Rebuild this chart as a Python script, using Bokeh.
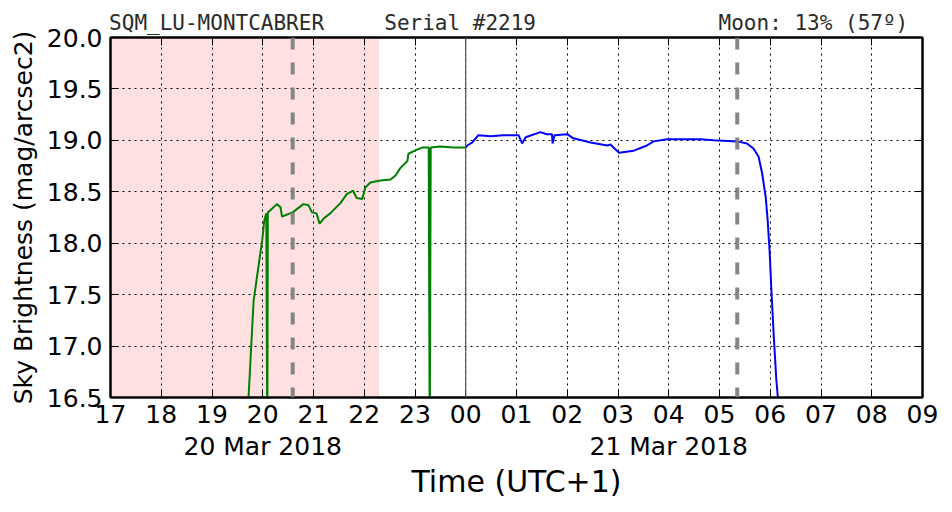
from bokeh.plotting import figure
from bokeh.models import (FixedTicker, LinearAxis, BoxAnnotation, Span,
                          PrintfTickFormatter)
from bokeh.embed import file_html
from bokeh.resources import INLINE

# ---- data (hours since 00:00 on 20 Mar 2018, UTC+1) ----
dusk_hours = [19.70, 19.72, 19.82, 19.90, 19.99, 20.03, 20.07, 20.09, 20.10, 20.15,
              20.28, 20.35, 20.38, 20.59, 20.80, 20.90, 20.97, 21.06, 21.12, 21.20,
              21.33, 21.53, 21.66, 21.78, 21.85, 21.96, 22.02, 22.12, 22.32, 22.52,
              22.62, 22.71, 22.85, 22.87, 23.04, 23.14, 23.27, 23.29, 23.31, 23.50,
              23.76, 24.00]
dusk_mag = [16.30, 16.50, 17.44, 17.72, 18.03, 18.22, 18.29, 16.00, 18.30, 18.32,
            18.38, 18.35, 18.26, 18.30, 18.38, 18.37, 18.30, 18.29, 18.19, 18.24,
            18.29, 18.39, 18.48, 18.51, 18.44, 18.43, 18.54, 18.59, 18.61, 18.62,
            18.66, 18.73, 18.80, 18.87, 18.91, 18.93, 18.93, 16.00, 18.93, 18.94,
            18.93, 18.93]

night_hours = [24.00, 24.03, 24.13, 24.25, 24.49, 24.74, 25.04, 25.11, 25.18, 25.47,
               25.60, 25.70, 25.71, 25.75, 26.00, 26.12, 26.46, 26.79, 26.85, 27.02,
               27.31, 27.57, 27.70, 27.97, 28.29, 28.63, 28.88, 29.35, 29.54, 29.67,
               29.77, 29.84, 29.91, 29.95, 29.99, 30.02, 30.07, 30.12, 30.15, 30.20]
night_mag = [18.93, 18.95, 18.98, 19.05, 19.04, 19.05, 19.05, 18.97, 19.03, 19.08,
             19.06, 19.06, 18.97, 19.05, 19.06, 19.02, 18.98, 18.95, 18.96, 18.88,
             18.90, 18.95, 18.99, 19.01, 19.01, 19.01, 19.00, 18.99, 18.97, 18.92,
             18.84, 18.68, 18.45, 18.22, 17.90, 17.57, 17.09, 16.67, 16.50, 16.20]

hour_ticks = list(range(17, 34))
hour_labels = ["17", "18", "19", "20", "21", "22", "23", "00", "01", "02",
               "03", "04", "05", "06", "07", "08", "09"]
mag_ticks = [16.5, 17.0, 17.5, 18.0, 18.5, 19.0, 19.5, 20.0]
date_ticks = [20, 28]
date_labels = ["20 Mar 2018", "21 Mar 2018"]
header_pos = [19.09, 23.89, 30.85]
header_texts = ["SQM_LU-MONTCABRER", "Serial #2219", "Moon: 13% (57º)"]
twilight_end = 22.28
moon_events = [20.59, 29.35]
midnight = 24.0

FONT = "DejaVu Sans"
MONO = "DejaVu Sans Mono"

p = figure(width=952, height=512, output_backend="svg", toolbar_location=None,
           x_range=(17, 33), y_range=(16.5, 20.0),
           min_border_left=110, min_border_right=30, min_border_top=37,
           min_border_bottom=115)
p.background_fill_color = "white"
p.border_fill_color = "white"
p.outline_line_color = "black"
p.outline_line_width = 2

# grid
for g in (p.xgrid, p.ygrid):
    g.grid_line_color = "black"
    g.grid_line_dash = "2 4"
    g.grid_line_width = 1
p.xgrid.ticker = FixedTicker(ticks=hour_ticks)
p.ygrid.ticker = FixedTicker(ticks=mag_ticks)

# twilight shading
p.add_layout(BoxAnnotation(left=17, right=twilight_end, fill_color="red",
                           fill_alpha=0.12, line_color="red", line_alpha=0.12,
                           level="image"))
# midnight line
p.add_layout(Span(location=midnight, dimension="height", line_color="#555555",
                  line_width=1.2))
# moon lines
for m in moon_events:
    p.add_layout(Span(location=m, dimension="height", line_color="gray",
                      line_width=4, line_dash="12 13", line_alpha=0.95))

p.line(dusk_hours, dusk_mag, line_color="#008000", line_width=2)
p.line(night_hours, night_mag, line_color="#0000ff", line_width=2)

# axes
xa = p.xaxis[0]
xa.ticker = FixedTicker(ticks=hour_ticks)
xa.major_label_overrides = {t: l for t, l in zip(hour_ticks, hour_labels)}
ya = p.yaxis[0]
ya.ticker = FixedTicker(ticks=mag_ticks)
ya.formatter = PrintfTickFormatter(format="%.1f")
ya.axis_label = "Sky Brightness (mag/arcsec2)"
for ax in (xa, ya):
    ax.major_tick_in = 8
    ax.major_tick_out = 0
    ax.minor_tick_line_color = None
    ax.axis_line_width = 2
    ax.major_tick_line_width = 1
    ax.major_label_text_font = FONT
    ax.major_label_text_font_size = "25px"
    ax.major_label_text_color = "black"
    ax.axis_label_text_font = FONT
    ax.axis_label_text_font_style = "normal"
    ax.axis_label_text_color = "black"
xa.major_label_standoff = 7
ya.major_label_standoff = 8
ya.axis_label_text_font_size = "25px"
ya.axis_label_standoff = 6

# date axis
da = LinearAxis(ticker=FixedTicker(ticks=date_ticks),
                major_label_overrides={t: l for t, l in zip(date_ticks, date_labels)},
                axis_line_color=None, major_tick_line_color=None,
                minor_tick_line_color=None, major_label_standoff=0,
                major_label_text_font=FONT, major_label_text_font_size="25px",
                major_label_text_color="black",
                axis_label="Time (UTC+1)", axis_label_text_font=FONT,
                axis_label_text_font_size="30px", axis_label_text_font_style="normal",
                axis_label_text_color="black", axis_label_standoff=0)
p.add_layout(da, "below")

# top axis: header texts + inward hour ticks
top = LinearAxis(ticker=FixedTicker(ticks=header_pos, minor_ticks=hour_ticks),
                 major_label_overrides={t: l for t, l in zip(header_pos, header_texts)},
                 major_tick_line_color=None, minor_tick_in=8, minor_tick_out=0,
                 minor_tick_line_color="black", axis_line_width=2,
                 major_label_standoff=-3, major_label_text_font=MONO,
                 major_label_text_font_size="21px", major_label_text_color="#2a2a2a")
# right axis: inward ticks only
right = LinearAxis(ticker=FixedTicker(ticks=[], minor_ticks=mag_ticks),
                   major_tick_line_color=None, minor_tick_in=8, minor_tick_out=0,
                   minor_tick_line_color="black", axis_line_width=2)
p.add_layout(top, "above")
p.add_layout(right, "right")

open("out.html", "w").write(file_html(p, INLINE))
